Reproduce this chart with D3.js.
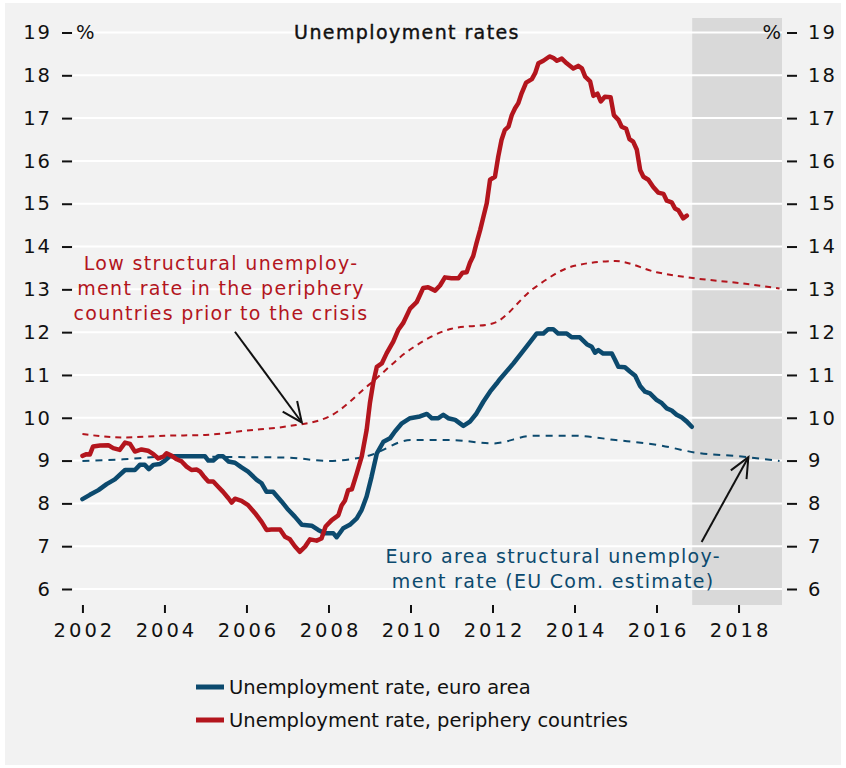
<!DOCTYPE html>
<html><head><meta charset="utf-8">
<script src="https://cdn.jsdelivr.net/npm/d3@7"></script>
<style>
html,body{margin:0;padding:0;background:#fff;}
svg text{font-family:"DejaVu Sans",sans-serif;}
</style></head>
<body><svg id="c" width="846" height="768"></svg>
<script>
// ---- data ----
const euroDates = [2002.0,2002.18,2002.39,2002.59,2002.79,2003.04,2003.28,2003.40,2003.52,2003.62,2003.73,2003.89,2004.01,2004.13,2004.99,2005.07,2005.19,2005.31,2005.43,2005.56,2005.72,2005.88,2006.04,2006.25,2006.37,2006.49,2006.65,2006.86,2007.02,2007.18,2007.35,2007.59,2007.75,2007.91,2008.12,2008.20,2008.36,2008.52,2008.69,2008.81,2008.93,2009.05,2009.18,2009.34,2009.50,2009.62,2009.79,2009.99,2010.23,2010.40,2010.52,2010.68,2010.80,2010.92,2011.09,2011.29,2011.45,2011.61,2011.78,2011.94,2012.10,2012.18,2012.51,2012.83,2013.08,2013.24,2013.36,2013.48,2013.60,2013.81,2013.93,2014.13,2014.30,2014.42,2014.50,2014.58,2014.70,2014.91,2014.99,2015.07,2015.23,2015.35,2015.48,2015.60,2015.72,2015.84,2016.00,2016.13,2016.25,2016.37,2016.49,2016.61,2016.74,2016.86];
const euroRate = [8.1,8.2,8.31,8.45,8.56,8.78,8.78,8.9,8.9,8.8,8.9,8.92,9.0,9.1,9.1,9.0,9.0,9.1,9.1,8.98,8.95,8.84,8.74,8.55,8.47,8.27,8.27,8.04,7.85,7.69,7.5,7.48,7.38,7.3,7.3,7.21,7.42,7.5,7.65,7.85,8.16,8.62,9.17,9.44,9.52,9.68,9.87,9.99,10.03,10.09,9.99,9.99,10.07,9.99,9.95,9.81,9.91,10.1,10.38,10.61,10.8,10.9,11.27,11.66,11.97,11.97,12.07,12.07,11.97,11.97,11.88,11.88,11.72,11.66,11.52,11.58,11.5,11.5,11.35,11.19,11.18,11.08,10.98,10.74,10.61,10.57,10.42,10.34,10.22,10.17,10.07,10.01,9.91,9.79];

const periDates = [2002.0,2002.10,2002.18,2002.26,2002.43,2002.63,2002.75,2002.91,2003.04,2003.16,2003.28,2003.44,2003.60,2003.73,2003.85,2003.97,2004.05,2004.18,2004.30,2004.42,2004.54,2004.66,2004.79,2004.87,2004.95,2005.07,2005.19,2005.31,2005.43,2005.56,2005.64,2005.72,2005.88,2006.04,2006.21,2006.37,2006.49,2006.61,2006.82,2006.94,2007.06,2007.18,2007.30,2007.43,2007.55,2007.71,2007.83,2007.93,2008.08,2008.24,2008.32,2008.40,2008.48,2008.57,2008.69,2008.81,2008.93,2009.01,2009.09,2009.18,2009.30,2009.42,2009.58,2009.70,2009.82,2009.99,2010.15,2010.31,2010.43,2010.60,2010.72,2010.84,2011.00,2011.17,2011.27,2011.37,2011.45,2011.53,2011.61,2011.70,2011.78,2011.86,2011.94,2012.06,2012.14,2012.22,2012.30,2012.39,2012.47,2012.55,2012.63,2012.71,2012.82,2012.96,2013.04,2013.12,2013.24,2013.39,2013.48,2013.57,2013.69,2013.81,2013.97,2014.09,2014.18,2014.26,2014.38,2014.46,2014.56,2014.64,2014.74,2014.88,2014.96,2015.07,2015.15,2015.26,2015.34,2015.43,2015.52,2015.60,2015.68,2015.80,2015.92,2016.04,2016.17,2016.25,2016.37,2016.45,2016.53,2016.65,2016.74];
const periRate = [9.11,9.15,9.14,9.33,9.35,9.36,9.29,9.25,9.42,9.39,9.21,9.26,9.23,9.15,9.05,9.09,9.17,9.11,9.03,8.98,8.86,8.78,8.79,8.74,8.64,8.51,8.51,8.39,8.27,8.12,8.02,8.11,8.06,7.96,7.77,7.57,7.38,7.39,7.39,7.22,7.16,7.0,6.87,6.99,7.16,7.13,7.18,7.46,7.61,7.72,7.95,8.06,8.31,8.33,8.7,9.09,9.71,10.34,10.81,11.19,11.27,11.51,11.78,12.05,12.21,12.55,12.7,13.03,13.05,12.97,13.09,13.28,13.26,13.26,13.39,13.4,13.62,13.78,14.08,14.39,14.7,15.01,15.56,15.63,16.1,16.49,16.72,16.8,17.07,17.23,17.35,17.58,17.83,17.91,18.05,18.28,18.34,18.44,18.41,18.34,18.39,18.28,18.16,18.22,18.16,17.97,17.86,17.52,17.57,17.39,17.5,17.49,17.07,16.96,16.8,16.75,16.51,16.45,16.26,15.79,15.63,15.56,15.39,15.26,15.23,15.07,15.03,14.89,14.85,14.66,14.72];

const structYears = [2002,2003,2004,2005,2006,2007,2008,2009,2010,2011,2012,2013,2014,2015,2016,2017,2018,2019];
const structEuro = [8.99,9.03,9.09,9.09,9.08,9.07,8.99,9.12,9.48,9.48,9.4,9.58,9.58,9.48,9.37,9.18,9.1,8.99];
const structPeri = [9.62,9.54,9.58,9.6,9.7,9.8,10.02,10.78,11.6,12.08,12.2,13.02,13.55,13.66,13.4,13.25,13.15,13.02];

const yTicks = [6,7,8,9,10,11,12,13,14,15,16,17,18,19];
const xTicks = [2002,2004,2006,2008,2010,2012,2014,2016,2018];
const forecastStart = 2016.87;

const title = "Unemployment rates";
const legendLabels = ["Unemployment rate, euro area","Unemployment rate, periphery countries"];
const noteRed = ["Low structural unemploy-","ment rate in the periphery","countries prior to the crisis"];
const noteBlue = ["Euro area structural unemploy-","ment rate (EU Com. estimate)"];

// ---- drawing ----
const BLUE = "#0c4a6e", RED = "#b3151d";
const svg = d3.select("#c");
svg.append("rect").attr("x",5).attr("y",3).attr("width",836).attr("height",762).attr("fill","#f2f2f2");

const x = d3.scaleLinear().domain([2001.77, 2019.06]).range([73, 782]);
const y = d3.scaleLinear().domain([6, 19]).range([589, 32.5]);

// forecast shade
svg.append("rect").attr("x", x(forecastStart)).attr("y", 18)
  .attr("width", x.range()[1] - x(forecastStart)).attr("height", 605 - 18)
  .attr("fill", "#d9d9d9");

// gridlines
svg.append("g").selectAll("line").data(yTicks).join("line")
  .attr("x1", 73).attr("x2", 782).attr("y1", d => y(d)).attr("y2", d => y(d))
  .attr("stroke", "#fff").attr("stroke-width", 2);

// y axes
const yl = svg.append("g").attr("transform", "translate(73,0)")
  .call(d3.axisLeft(y).tickValues(yTicks).tickSize(10).tickPadding(11));
const yr = svg.append("g").attr("transform", "translate(787,0)")
  .call(d3.axisRight(y).tickValues(yTicks).tickSize(10).tickPadding(11));
[yl, yr].forEach(g => {
  g.select(".domain").remove();
  g.selectAll(".tick line").attr("stroke", "#111").attr("stroke-width", 2)
    .attr("transform", g === yl ? "translate(-1,0)" : null);
  g.selectAll(".tick text").attr("font-size", 19.5).attr("fill", "#111")
    .attr("font-family", "DejaVu Sans").style("letter-spacing", "2px");
});

// x axis
const xa = svg.append("g").attr("transform", "translate(0,605)")
  .call(d3.axisBottom(x).tickValues(xTicks).tickFormat(d3.format("d")).tickSize(8).tickPadding(10));
xa.select(".domain").remove();
xa.selectAll(".tick line").attr("stroke", "#111").attr("stroke-width", 2);
xa.selectAll(".tick text").attr("font-size", 19.5).attr("fill", "#111")
  .attr("font-family", "DejaVu Sans").style("letter-spacing", "3px").attr("dx", "1.5px");

// % labels & title
svg.append("text").attr("x", 76).attr("y", y(19)).attr("dy", "0.35em")
  .attr("font-size", 19.5).attr("fill", "#111").text("%");
svg.append("text").attr("x", 781).attr("y", y(19)).attr("dy", "0.35em")
  .attr("text-anchor", "end").attr("font-size", 19.5).attr("fill", "#111").text("%");
svg.append("text").attr("x", 407).attr("y", y(19)).attr("dy", "0.35em")
  .attr("text-anchor", "middle").attr("font-size", 19).attr("fill", "#111")
  .attr("stroke", "#111").attr("stroke-width", 0.4).style("letter-spacing", "1.4px").text(title);

// structural lines
const line = d3.line().x(d => x(d[0])).y(d => y(d[1]));
svg.append("path").datum(d3.zip(structYears, structPeri)).attr("d", line.curve(d3.curveMonotoneX))
  .attr("fill", "none").attr("stroke", RED).attr("stroke-width", 2).attr("stroke-dasharray", "6,5");
svg.append("path").datum(d3.zip(structYears, structEuro)).attr("d", line.curve(d3.curveMonotoneX))
  .attr("fill", "none").attr("stroke", BLUE).attr("stroke-width", 2).attr("stroke-dasharray", "7,6");

// main series
const line2 = d3.line().x(d => x(d[0])).y(d => y(d[1]));
svg.append("path").datum(d3.zip(euroDates, euroRate)).attr("d", line2)
  .attr("fill", "none").attr("stroke", BLUE).attr("stroke-width", 4.5)
  .attr("stroke-linejoin", "round").attr("stroke-linecap", "round");
svg.append("path").datum(d3.zip(periDates, periRate)).attr("d", line2)
  .attr("fill", "none").attr("stroke", RED).attr("stroke-width", 4.5)
  .attr("stroke-linejoin", "round").attr("stroke-linecap", "round");

// annotations
function arrow(x0, y0, x1, y1) {
  const g = svg.append("g").attr("stroke", "#111").attr("stroke-width", 2).attr("fill", "none");
  g.append("line").attr("x1", x0).attr("y1", y0).attr("x2", x1).attr("y2", y1);
  const a = Math.atan2(y1 - y0, x1 - x0), L = 22, s = 0.42;
  const p = [[x1 - L * Math.cos(a - s), y1 - L * Math.sin(a - s)], [x1, y1], [x1 - L * Math.cos(a + s), y1 - L * Math.sin(a + s)]];
  g.append("path").attr("d", d3.line()(p));
}
arrow(x(2005.72), y(12.01), x(2007.35), y(9.89));
arrow(x(2017.10), y(7.1), x(2018.24), y(9.08));

noteRed.forEach((t, i) => svg.append("text").attr("x", x(2005.38)).attr("y", 270 + i * 25)
  .attr("text-anchor", "middle").attr("font-size", 19).attr("fill", RED)
  .style("letter-spacing", "1.35px").text(t));
noteBlue.forEach((t, i) => svg.append("text").attr("x", x(2013.48)).attr("y", 563 + i * 25)
  .attr("text-anchor", "middle").attr("font-size", 19).attr("fill", BLUE)
  .style("letter-spacing", "1.3px").text(t));

// legend
[BLUE, RED].forEach((c, i) => {
  svg.append("line").attr("x1", 196).attr("x2", 224).attr("y1", 687 + i * 33).attr("y2", 687 + i * 33)
    .attr("stroke", c).attr("stroke-width", 5);
  svg.append("text").attr("x", 229).attr("y", 687 + i * 33).attr("dy", "0.35em")
    .attr("font-size", 19.5).attr("fill", "#111").text(legendLabels[i]);
});
</script></body></html>
